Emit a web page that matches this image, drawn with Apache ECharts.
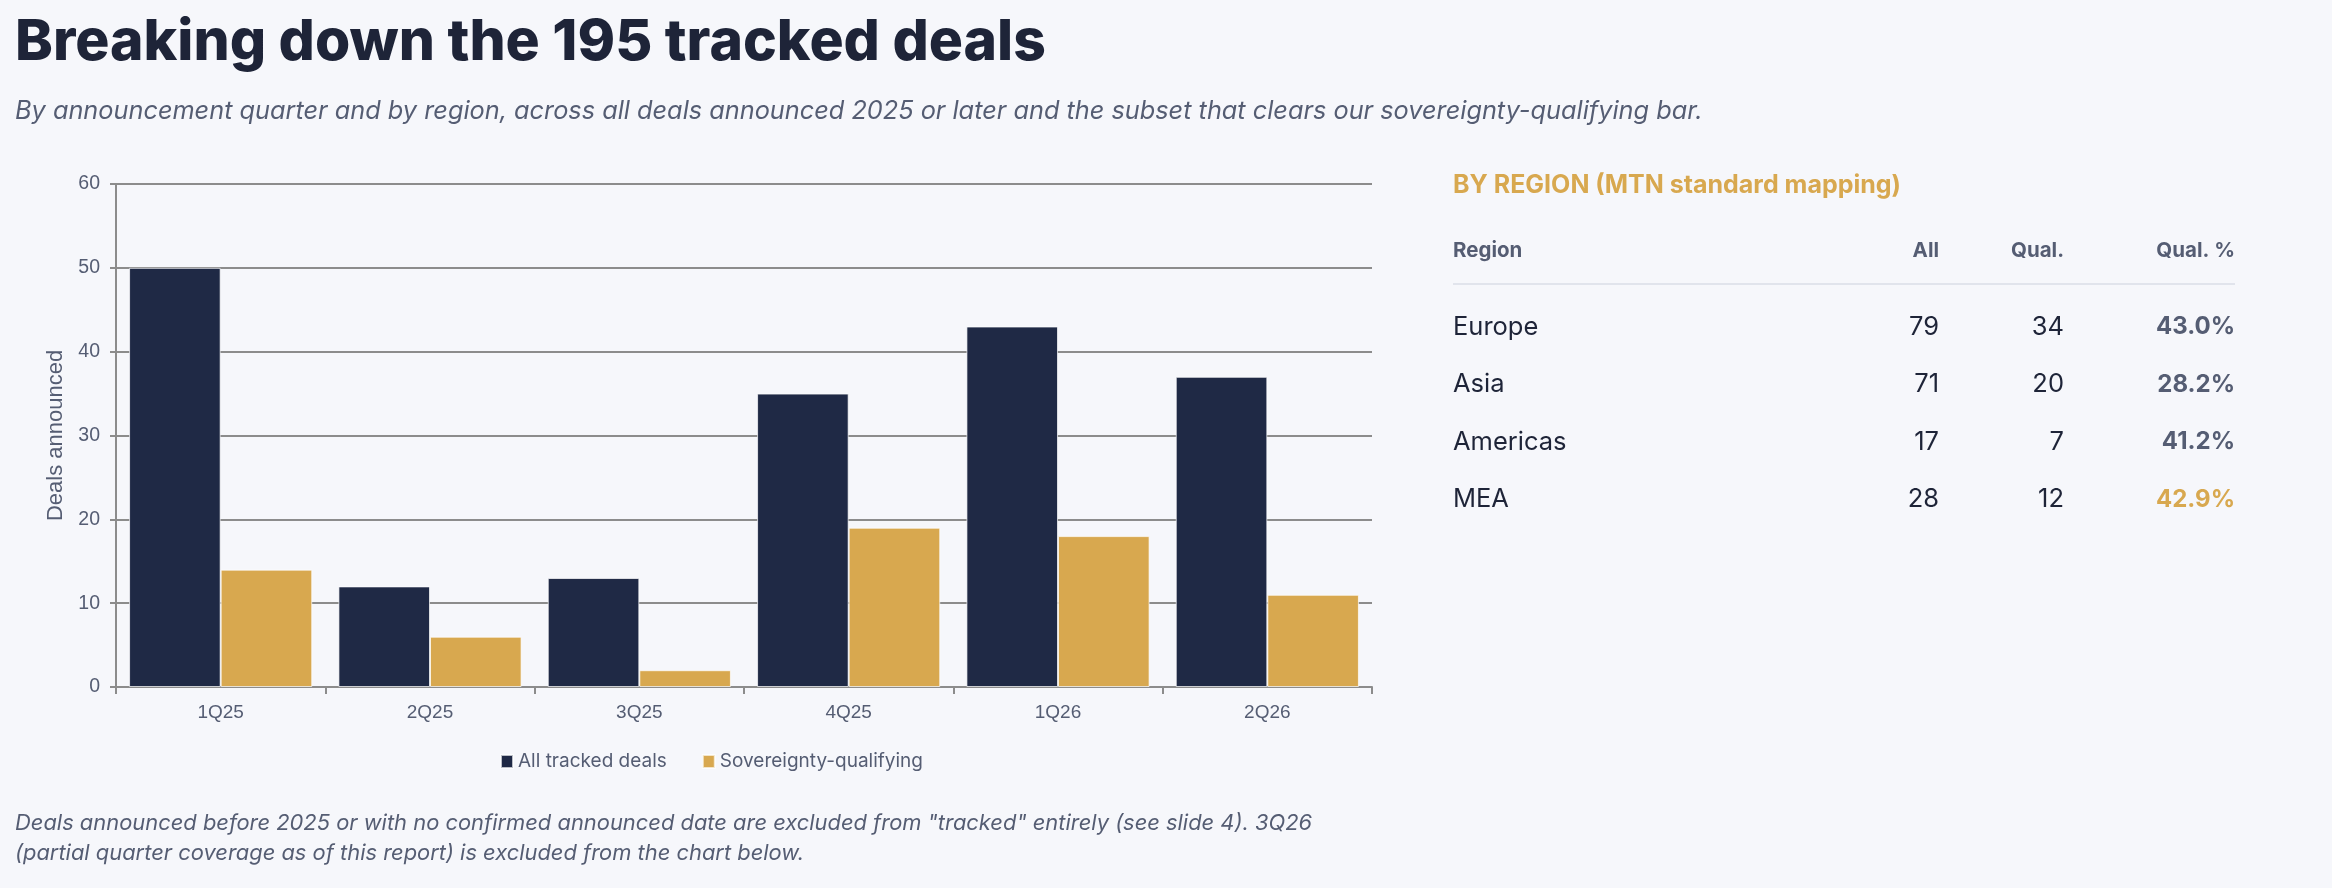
<!DOCTYPE html>
<html>
<head>
<meta charset="utf-8">
<script src="https://cdn.jsdelivr.net/npm/echarts@6/dist/echarts.min.js"></script>
<style>
  html, body { margin: 0; padding: 0; background: #f6f7fb; }
  #chart { width: 2332px; height: 888px; }
</style>
</head>
<body>
<div id="chart"></div>
<script>
// quarters on the x axis
var quarters = ['1Q25', '2Q25', '3Q25', '4Q25', '1Q26', '2Q26'];
var allDeals = [50, 12, 13, 35, 43, 37];
var qualDeals = [14, 6, 2, 19, 18, 11];
var yTicks = [0, 10, 20, 30, 40, 50, 60];

// region table
var regions = ['Europe', 'Asia', 'Americas', 'MEA'];
var regionAll = [79, 71, 17, 28];
var regionQual = [34, 20, 7, 12];
var regionHighlight = [false, false, false, true];

var NAVY = '#1f2945';
var GOLD = '#d8a84f';
var GREY = '#555d73';
var INK = '#1e2438';
var FONT = 'Inter, "Noto Sans", sans-serif';
var AXISFONT = '"Liberation Sans", Arial, sans-serif';

var el = document.getElementById('chart');
var chart = echarts.init(el, null, { renderer: 'canvas' });

// y is the vertical middle of the text
function txt(x, y, s, style) {
    return {
        type: 'text', x: x, y: y, silent: true,
        style: Object.assign({
            text: s, fontFamily: FONT, fill: INK,
            verticalAlign: 'middle'
        }, style)
    };
}

var graphics = [
    txt(15, 43, 'Breaking down the 195 tracked deals', { fontSize: 57, fontWeight: 800 }),
    txt(15, 111, 'By announcement quarter and by region, across all deals announced 2025 or later and the subset that clears our sovereignty-qualifying bar.',
        { fontSize: 25.3, fontStyle: 'italic', fill: GREY }),
    txt(15, 823, 'Deals announced before 2025 or with no confirmed announced date are excluded from "tracked" entirely (see slide 4). 3Q26',
        { fontSize: 21.9, fontStyle: 'italic', fill: GREY }),
    txt(15, 853, '(partial quarter coverage as of this report) is excluded from the chart below.',
        { fontSize: 21.9, fontStyle: 'italic', fill: GREY }),
    txt(1453, 185, 'BY REGION (MTN standard mapping)', { fontSize: 25, fontWeight: 700, fill: GOLD }),
    txt(1453, 251, 'Region', { fontSize: 20.5, fontWeight: 700, fill: GREY }),
    txt(1939, 251, 'All', { fontSize: 20.5, fontWeight: 700, fill: GREY, align: 'right' }),
    txt(2064, 251, 'Qual.', { fontSize: 20.5, fontWeight: 700, fill: GREY, align: 'right' }),
    txt(2235, 251, 'Qual. %', { fontSize: 20.5, fontWeight: 700, fill: GREY, align: 'right' }),
    {
        type: 'line', silent: true,
        shape: { x1: 1453, y1: 284, x2: 2235, y2: 284 },
        style: { stroke: '#e1e4ec', lineWidth: 2 }
    }
];

regions.forEach(function (r, i) {
    var y = 327 + i * 57.5;
    var pct = (regionQual[i] / regionAll[i] * 100).toFixed(1) + '%';
    graphics.push(txt(1453, y, r, { fontSize: 25.5 }));
    graphics.push(txt(1939, y, String(regionAll[i]), { fontSize: 25.5, align: 'right' }));
    graphics.push(txt(2064, y, String(regionQual[i]), { fontSize: 25.5, align: 'right' }));
    graphics.push(txt(2235, y, pct, {
        fontSize: 24, fontWeight: 700, align: 'right',
        fill: regionHighlight[i] ? GOLD : GREY
    }));
});

var option = {
    backgroundColor: '#f6f7fb',
    animation: false,
    grid: { left: 116, right: 960, top: 184, bottom: 201 },
    legend: {
        bottom: 112, left: 495, itemWidth: 12, itemHeight: 13, itemGap: 35,
        icon: 'rect',
        textStyle: { fontFamily: FONT, fontSize: 19, color: GREY },
        data: ['All tracked deals', 'Sovereignty-qualifying']
    },
    xAxis: {
        type: 'category',
        data: quarters,
        axisLine: { lineStyle: { color: '#8c8c8c', width: 2 } },
        axisTick: { show: true, length: 7, lineStyle: { color: '#8c8c8c', width: 2 } },
        axisLabel: { fontFamily: AXISFONT, fontSize: 19, color: GREY, margin: 16 }
    },
    yAxis: {
        type: 'value',
        min: yTicks[0], max: yTicks[yTicks.length - 1], interval: 10,
        name: 'Deals announced',
        nameLocation: 'middle', nameRotate: 90, nameGap: 47,
        nameTextStyle: { fontFamily: AXISFONT, fontSize: 22, color: GREY },
        axisLine: { show: true, lineStyle: { color: '#8c8c8c', width: 2 } },
        axisTick: { show: true, length: 6, lineStyle: { color: '#8c8c8c', width: 2 } },
        axisLabel: { fontFamily: AXISFONT, fontSize: 19.5, color: GREY, margin: 16 },
        splitLine: { lineStyle: { color: '#8c8c8c', width: 2 } }
    },
    series: [
        {
            name: 'All tracked deals', type: 'bar', data: allDeals,
            barGap: '0%', barCategoryGap: '12.5%',
            itemStyle: { color: NAVY, borderColor: 'rgba(255,255,255,0.7)', borderWidth: 1 }
        },
        {
            name: 'Sovereignty-qualifying', type: 'bar', data: qualDeals,
            itemStyle: { color: GOLD, borderColor: 'rgba(255,255,255,0.7)', borderWidth: 1 }
        }
    ],
    graphic: graphics
};

chart.setOption(option);
</script>
</body>
</html>
